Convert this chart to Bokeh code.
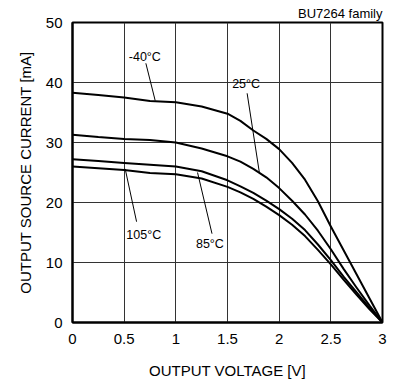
from bokeh.plotting import figure
from bokeh.models import Label, Range1d, FixedTicker, ColumnDataSource
from bokeh.embed import file_html
from bokeh.resources import INLINE

# ---- data ----
voltage = [0, 0.25, 0.5, 0.75, 1.0, 1.25, 1.5, 1.625, 1.75, 1.875, 2.0,
           2.125, 2.25, 2.375, 2.5, 2.625, 2.75, 2.875, 3.0]
i_m40 = [38.3, 37.9, 37.5, 36.9, 36.7, 36.0, 34.8, 33.6, 32.0, 30.6, 28.9,
         26.6, 23.8, 20.2, 16.0, 12.0, 8.0, 4.0, 0]
i_25 = [31.3, 30.9, 30.6, 30.4, 30.0, 29.0, 27.7, 26.8, 25.6, 24.2, 22.4,
        20.3, 18.0, 15.3, 12.2, 8.9, 5.8, 2.8, 0]
i_85 = [27.2, 26.9, 26.6, 26.3, 26.0, 25.2, 23.7, 22.7, 21.6, 20.3, 18.9,
        17.3, 15.4, 13.0, 10.4, 7.6, 5.0, 2.4, 0]
i_105 = [26.0, 25.7, 25.4, 24.9, 24.7, 24.0, 22.6, 21.7, 20.6, 19.3, 17.9,
         16.3, 14.4, 12.1, 9.7, 7.1, 4.6, 2.2, 0]
series = [i_m40, i_25, i_85, i_105]

x_ticks = [0, 0.5, 1, 1.5, 2, 2.5, 3]
y_ticks = [0, 10, 20, 30, 40, 50]

# temperature labels: text, label position, leader line start/end (data units)
label_text = ["-40°C", "25°C", "105°C", "85°C"]
label_x = [0.70, 1.68, 0.69, 1.33]
label_y = [44.3, 39.8, 14.6, 13.1]
lead_x0 = [0.71, 1.69, 0.62, 1.35]
lead_y0 = [43.2, 38.2, 16.8, 14.8]
lead_x1 = [0.80, 1.81, 0.51, 1.21]
lead_y1 = [37.0, 24.8, 25.6, 25.0]

FONT = "Liberation Sans"

p = figure(width=396, height=383, output_backend="svg", toolbar_location=None,
           x_range=Range1d(0, 3), y_range=Range1d(0, 50),
           min_border_left=72, min_border_right=14, min_border_top=22, min_border_bottom=61)
p.background_fill_color = "white"
p.border_fill_color = "white"
p.outline_line_color = "black"
p.outline_line_width = 2

p.title.text = "BU7264 family"
p.title.align = "right"
p.title.text_font = FONT
p.title.text_font_size = "13px"
p.title.text_font_style = "normal"
p.title.text_color = "black"
p.title.standoff = 3
p.title.offset = 0

for ax in (p.xaxis[0], p.yaxis[0]):
    ax.axis_line_width = 2
    ax.axis_line_color = "black"
    ax.major_tick_out = 0
    ax.major_tick_in = 0
    ax.minor_tick_out = 0
    ax.minor_tick_in = 0
    ax.major_label_text_font = FONT
    ax.major_label_text_font_size = "15px"
    ax.major_label_text_color = "black"
    ax.axis_label_text_font = FONT
    ax.axis_label_text_font_size = "15px"
    ax.axis_label_text_font_style = "normal"
    ax.axis_label_text_color = "black"

p.xaxis.ticker = FixedTicker(ticks=x_ticks)
p.yaxis.ticker = FixedTicker(ticks=y_ticks)
p.xaxis.major_label_overrides = {t: f"{t:g}" for t in x_ticks}
p.xaxis.axis_label = "OUTPUT VOLTAGE [V]"
p.yaxis.axis_label = "OUTPUT SOURCE CURRENT [mA]"
p.xaxis.major_label_standoff = 11
p.xaxis.axis_label_standoff = 15
p.yaxis.major_label_standoff = 10
p.yaxis.axis_label_standoff = 9

p.xgrid.ticker = FixedTicker(ticks=x_ticks)
p.ygrid.ticker = FixedTicker(ticks=y_ticks)
for g in (p.xgrid[0], p.ygrid[0]):
    g.grid_line_color = "#333333"
    g.grid_line_width = 1

for s in series:
    p.line(voltage, s, line_color="black", line_width=2, line_join="round")

src = ColumnDataSource(dict(x0=lead_x0, y0=lead_y0, x1=lead_x1, y1=lead_y1))
p.segment(x0="x0", y0="y0", x1="x1", y1="y1", source=src, line_color="black", line_width=1)

for t, x, y in zip(label_text, label_x, label_y):
    p.add_layout(Label(x=x, y=y, text=t, text_align="center", text_baseline="middle",
                       text_font=FONT, text_font_size="12.5px", text_color="black"))

open("out.html", "w").write(file_html(p, INLINE))
